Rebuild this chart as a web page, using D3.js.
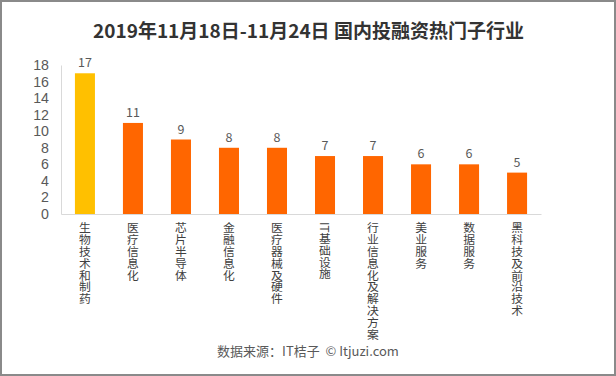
<!DOCTYPE html>
<html><head><meta charset="utf-8">
<script src="https://cdn.jsdelivr.net/npm/d3@7"></script>
<style>
html,body{margin:0;padding:0;background:#fff;}
svg{display:block;font-family:"Microsoft YaHei","Noto Sans CJK SC",sans-serif;}
.cat{writing-mode:vertical-rl;text-orientation:mixed;}
</style></head>
<body>
<svg id="chart" width="616" height="376"></svg>
<script>
const title = "2019年11月18日-11月24日 国内投融资热门子行业";
const categories = ["生物技术和制药","医疗信息化","芯片半导体","金融信息化","医疗器械及硬件","IT基础设施","行业信息化及解决方案","美业服务","数据服务","黑科技及前沿技术"];
const values = [17, 11, 9, 8, 8, 7, 7, 6, 6, 5];
const yTicks = [0, 2, 4, 6, 8, 10, 12, 14, 16, 18];
const source = "数据来源：IT桔子  © Itjuzi.com";

const svg = d3.select("#chart");
const W = 616, H = 376;
svg.append("rect").attr("x",1).attr("y",1).attr("width",W-2).attr("height",H-2)
  .attr("fill","#fff").attr("stroke","#8a8a8a").attr("stroke-width",2);

const m = {left:61, right:75, top:65, bottom:162};
const x = d3.scaleBand().domain(categories).range([m.left, W-m.right]).paddingInner(0.583).paddingOuter(0.29);
const y = d3.scaleLinear().domain([0,18]).range([H-m.bottom, m.top]);

svg.append("text").attr("x",308.5).attr("y",38).attr("text-anchor","middle")
  .attr("font-size",19).attr("font-weight","bold").attr("fill","#333").text(title);

// y axis
const ya = svg.append("g").attr("transform",`translate(${m.left},0)`)
  .call(d3.axisLeft(y).tickValues(yTicks).tickSize(0).tickPadding(12));
ya.select(".domain").attr("stroke","#d9d9d9");
ya.selectAll("text").attr("font-size",14.2).attr("fill","#595959").attr("font-family","'Liberation Sans',Arial,sans-serif");

// bars
svg.selectAll("rect.bar").data(values).join("rect").attr("class","bar")
  .attr("x",(d,i)=>x(categories[i])).attr("width",x.bandwidth())
  .attr("y",d=>y(d)).attr("height",d=>y(0)-y(d))
  .attr("fill",(d,i)=>i===0?"#FFC000":"#FF6600");

// value labels
svg.selectAll("text.val").data(values).join("text").attr("class","val")
  .attr("x",(d,i)=>x(categories[i])+x.bandwidth()/2).attr("y",d=>y(d)-6)
  .attr("text-anchor","middle").attr("font-size",12.5).attr("fill","#595959").text(d=>d);

// x axis
const xa = svg.append("g").attr("transform",`translate(0,${y(0)})`)
  .call(d3.axisBottom(x).tickSize(0).tickFormat(""));
xa.select(".domain").attr("stroke","#d9d9d9");

// vertical category labels
svg.selectAll("text.cat").data(categories).join("text").attr("class","cat")
  .attr("x",d=>x(d)+x.bandwidth()/2).attr("y",y(0)+8)
  .attr("text-anchor","start").attr("font-size",11.8).attr("fill","#404040")
  .text(d=>d);

svg.append("text").attr("x",308).attr("y",356).attr("text-anchor","middle")
  .attr("font-size",13).attr("fill","#595959").attr("xml:space","preserve").text(source);
</script>
</body></html>
